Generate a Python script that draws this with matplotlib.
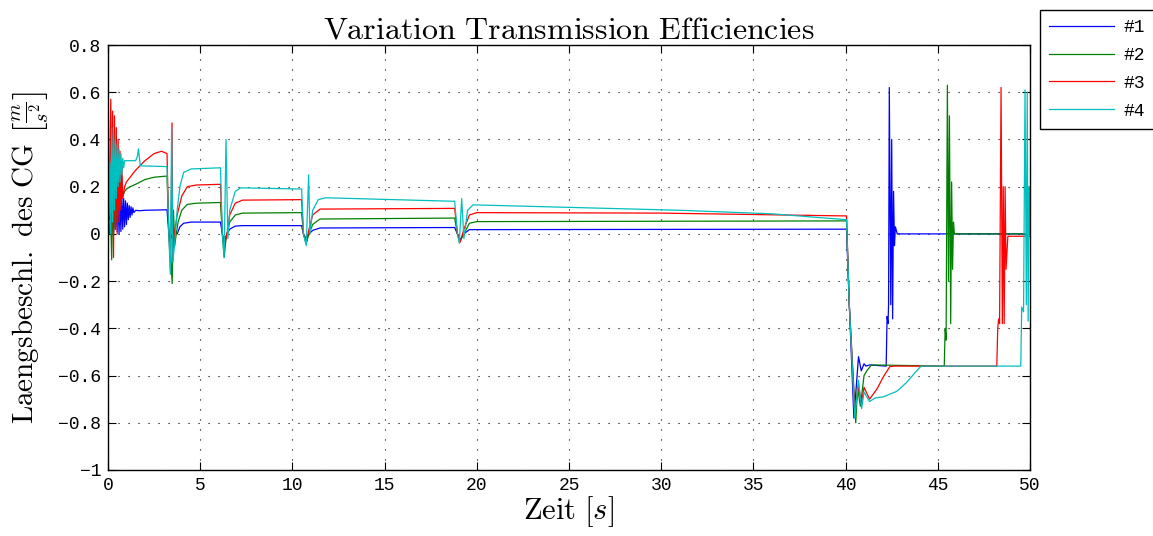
import matplotlib
matplotlib.use('Agg')
import matplotlib.pyplot as plt

# ---- data (time in s, accel in m/s^2) ----
t1 = [0, 0.1, 0.15, 0.2, 0.25, 0.3, 0.35, 0.4, 0.45, 0.5, 0.55, 0.6, 0.65, 0.7, 0.75, 0.8,
      0.85, 0.9, 0.95, 1.0, 1.05, 1.1, 1.15, 1.2, 1.25, 1.3, 1.35, 1.4, 1.5, 1.7, 2.0, 3.2,
      3.3, 3.4, 3.5, 3.75, 3.9, 4.1, 4.5, 6.1, 6.2, 6.3, 6.45, 6.6, 6.9, 7.3, 10.5, 10.6,
      10.75, 10.9, 11.1, 11.5, 18.8, 18.95, 19.1, 19.3, 19.6, 40.05, 40.2, 40.45, 40.7,
      40.85, 41.0, 41.1, 41.3, 42.2, 42.25, 42.3, 42.33, 42.37, 42.45, 42.5, 42.55, 42.6,
      42.65, 42.7, 42.8, 50]
y1 = [0.08, 0.06, 0.1, 0.02, 0.11, 0.01, 0.12, 0.02, 0.13, 0.01, 0.14, 0.0, 0.15, 0.01, 0.16,
      0.02, 0.15, 0.03, 0.14, 0.04, 0.13, 0.06, 0.12, 0.07, 0.115, 0.08, 0.11, 0.09, 0.1,
      0.098, 0.1, 0.102, 0.0, -0.02, 0.0, 0.0, 0.03, 0.045, 0.05, 0.05, 0.0, -0.03, 0.0,
      0.02, 0.033, 0.035, 0.035, 0.0, -0.02, 0.0, 0.015, 0.025, 0.027, 0.0, -0.025, 0.0,
      0.018, 0.02, -0.3, -0.78, -0.52, -0.58, -0.55, -0.56, -0.555, -0.56, -0.35, -0.38,
      -0.3, 0.62, -0.3, 0.4, -0.36, 0.18, -0.05, 0.03, 0.0, 0.0]

t2 = [0, 0.05, 0.1, 0.15, 0.2, 0.25, 0.3, 0.35, 0.4, 0.45, 0.5, 0.55, 0.6, 0.65, 0.7, 0.75,
      0.8, 0.9, 1.0, 1.2, 1.5, 2.0, 2.5, 3.2, 3.3, 3.4, 3.48, 3.55, 3.62, 3.7, 3.8, 4.0, 4.3,
      4.8, 6.1, 6.2, 6.3, 6.4, 6.6, 6.9, 7.3, 10.5, 10.6, 10.75, 10.9, 11.1, 11.5, 18.8,
      18.95, 19.1, 19.3, 19.6, 20.0, 40.05, 40.2, 40.55, 40.65, 40.8, 41.0, 41.15, 41.4,
      45.35, 45.4, 45.45, 45.52, 45.58, 45.63, 45.7, 45.75, 45.8, 45.85, 45.9, 50]
y2 = [0.1, 0.1, 0.15, 0.05, -0.11, 0.12, 0.0, 0.18, 0.02, 0.2, 0.05, 0.19, 0.1, 0.2, 0.12,
      0.2, 0.16, 0.18, 0.19, 0.2, 0.21, 0.23, 0.24, 0.245, 0.0, -0.1, -0.21, 0.1, -0.05, 0.0,
      0.05, 0.1, 0.125, 0.13, 0.133, 0.0, -0.1, -0.02, 0.05, 0.08, 0.088, 0.09, 0.0, -0.04,
      0.0, 0.04, 0.063, 0.067, 0.0, -0.03, 0.0, 0.045, 0.052, 0.055, -0.3, -0.8, -0.65,
      -0.73, -0.6, -0.58, -0.555, -0.56, -0.4, -0.45, 0.63, -0.2, 0.5, -0.38, 0.22, -0.15,
      0.05, 0.0, 0.0]

t3 = [0, 0.05, 0.1, 0.15, 0.2, 0.25, 0.3, 0.35, 0.4, 0.45, 0.5, 0.55, 0.6, 0.65, 0.7, 0.75,
      0.8, 0.9, 1.0, 1.2, 1.5, 2.0, 2.5, 2.9, 3.2, 3.3, 3.4, 3.47, 3.52, 3.6, 3.75, 4.0, 4.3,
      4.8, 6.1, 6.2, 6.3, 6.45, 6.6, 6.9, 7.3, 10.5, 10.6, 10.75, 10.9, 11.1, 11.5, 18.8,
      18.95, 19.1, 19.3, 19.6, 20.0, 30.0, 40.05, 40.2, 40.5, 40.7, 40.85, 41.0, 41.1, 41.3,
      41.7, 42.05, 42.4, 42.6, 48.2, 48.25, 48.3, 48.35, 48.43, 48.5, 48.55, 48.6, 48.65,
      48.7, 48.8, 50]
y3 = [0.1, 0.0, 0.3, 0.57, 0.1, 0.52, -0.1, 0.5, 0.05, 0.45, 0.0, 0.4, 0.05, 0.35, 0.1, 0.3,
      0.15, 0.2, 0.22, 0.24, 0.27, 0.31, 0.34, 0.35, 0.34, 0.0, -0.17, 0.47, -0.1, 0.0, 0.08,
      0.16, 0.2, 0.207, 0.21, 0.0, -0.06, 0.0, 0.08, 0.13, 0.143, 0.145, 0.0, -0.04, 0.02,
      0.08, 0.105, 0.108, 0.0, -0.035, 0.02, 0.08, 0.09, 0.088, 0.076, -0.3, -0.76, -0.64,
      -0.72, -0.65, -0.667, -0.7, -0.657, -0.605, -0.562, -0.56, -0.56, -0.4, -0.36, -0.38,
      0.62, -0.38, 0.2, -0.38, 0.2, -0.15, -0.01, -0.01]

t4 = [0, 0.05, 0.1, 0.15, 0.2, 0.25, 0.3, 0.35, 0.4, 0.45, 0.5, 0.55, 0.6, 0.65, 0.7, 0.75,
      0.8, 0.85, 0.9, 1.0, 1.5, 1.6, 1.65, 1.75, 1.84, 3.2, 3.3, 3.38, 3.45, 3.52, 3.6, 3.75,
      3.9, 4.1, 4.5, 6.1, 6.2, 6.3, 6.4, 6.5, 6.6, 6.9, 7.2, 10.5, 10.6, 10.75, 10.88, 10.95,
      11.1, 11.4, 11.8, 18.8, 18.95, 19.05, 19.18, 19.3, 19.5, 19.8, 31.0, 36.0, 40.05, 40.2,
      40.5, 40.7, 40.87, 41.0, 41.3, 41.6, 42.05, 42.77, 43.3, 43.85, 44.1, 49.5, 49.55,
      49.65, 49.73, 49.8, 49.85, 49.9, 49.95, 50]
y4 = [0.05, 0.1, 0.3, 0.0, 0.45, 0.05, 0.42, 0.1, 0.4, 0.15, 0.38, 0.2, 0.36, 0.22, 0.34,
      0.25, 0.32, 0.28, 0.31, 0.31, 0.31, 0.33, 0.36, 0.29, 0.288, 0.285, 0.0, -0.17, 0.45,
      -0.12, -0.05, 0.1, 0.2, 0.26, 0.275, 0.28, 0.0, -0.1, 0.4, -0.02, 0.1, 0.18, 0.195,
      0.19, 0.0, -0.05, 0.25, 0.0, 0.1, 0.145, 0.153, 0.138, 0.0, -0.04, 0.15, -0.02, 0.1,
      0.123, 0.1, 0.085, 0.06, -0.3, -0.78, -0.62, -0.74, -0.67, -0.71, -0.695, -0.69,
      -0.667, -0.63, -0.58, -0.56, -0.56, -0.31, -0.33, 0.61, -0.3, 0.6, -0.37, 0.2, 0.0]

labels = ['#1', '#2', '#3', '#4']
colors = ['#0000ff', '#008000', '#ff0000', '#00bfbf']
xticks = [0, 5, 10, 15, 20, 25, 30, 35, 40, 45, 50]
yticks = [-1, -0.8, -0.6, -0.4, -0.2, 0, 0.2, 0.4, 0.6, 0.8]

plt.rcParams['mathtext.fontset'] = 'cm'
mono = ['Liberation Mono', 'DejaVu Sans Mono']

fig = plt.figure(figsize=(11.53, 5.36), dpi=100)
ax = fig.add_axes([108/1153, 1-470/536, (1030-108)/1153, (470-45)/536])

lines = []
for t, y, c, lab in zip([t1, t2, t3, t4], [y1, y2, y3, y4], colors, labels):
    ln, = ax.plot(t, y, color=c, lw=0.9, label=lab)
    lines.append(ln)

ax.set_xlim(0, 50)
ax.set_ylim(-1, 0.8)
ax.set_xticks(xticks)
ax.set_yticks(yticks)
ax.set_xticklabels([str(v) for v in xticks], family=mono, fontsize=13)
ax.set_yticklabels([('%g' % v).replace('-', '\u2212') for v in yticks], family=mono, fontsize=13)
ax.tick_params(direction='in', top=True, right=True, length=6, width=0.8, pad=5)
ax.grid(True, color='k', linestyle=(0, (1, 8)), linewidth=0.8)
for s in ax.spines.values():
    s.set_linewidth(1.0)

ax.set_title(r'$\mathrm{Variation\ Transmission\ Efficiencies}$', fontsize=23, pad=5)
ax.set_xlabel(r'$\mathrm{Zeit}\ [s]$', fontsize=22, labelpad=0)
ax.set_ylabel(r'$\mathrm{Laengsbeschl.\ des\ CG}\ \left[\frac{m}{s^2}\right]$', fontsize=21, labelpad=5)

leg = fig.legend(lines, labels, loc='upper left', bbox_to_anchor=(1040/1153, 1-10/536),
                 borderaxespad=0, prop={'family': mono, 'size': 13}, handlelength=3.6,
                 labelspacing=0.6, fancybox=False, framealpha=1, edgecolor='k',
                 borderpad=0.5, handletextpad=0.5)
leg.get_frame().set_linewidth(1.0)

fig.savefig('out.png', dpi=100)
